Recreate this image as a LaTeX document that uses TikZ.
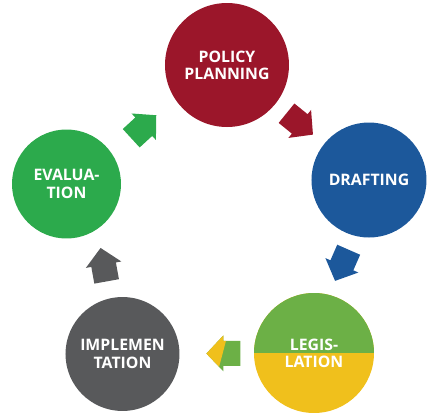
\documentclass[tikz,border=0pt]{standalone}
\usepackage{fontspec}
\setmainfont{Open Sans}
\usepackage{tikz}

\definecolor{ppred}{RGB}{155,22,42}
\definecolor{drblue}{RGB}{28,88,155}
\definecolor{lggreen}{RGB}{108,176,70}
\definecolor{lgyellow}{RGB}{240,192,28}
\definecolor{imgray}{RGB}{88,89,91}
\definecolor{evgreen}{RGB}{44,170,76}

\begin{document}
\begin{tikzpicture}
        \tikzstyle{stage} = [circle, inner sep=0pt, text=white, align=center, font=\fontsize{9}{9.8}\selectfont\bfseries];
        \tikzstyle{flow} = [sloped, allow upside down];
        \tikzset{
            blockarrow/.pic = {
                \fill (-0.34,0.25) -- (0,0.25) -- (0,0.36) -- (0.34,0) -- (0,-0.36) -- (0,-0.25) -- (-0.34,-0.25) -- cycle;
            },
            splitarrow/.pic = {
                \clip (-0.34,0.25) -- (0,0.25) -- (0,0.36) -- (0.34,0) -- (0,-0.36) -- (0,-0.25) -- (-0.34,-0.25) -- cycle;
                \fill [lggreen] (-0.4,-0.4) rectangle (0.4,0.4);
                \fill [lgyellow] (-0.12,-0.5) -- (0.5,-0.5) -- (0.5,0.5) -- (0.15,0.5) -- cycle;
            }
        }

        \useasboundingbox (0,0) rectangle (8.56,-8.28);

        \node [stage, fill=ppred, minimum size=2.48cm] (pp) at (4.54,-1.30) {POLICY\\PLANNING};
        \node [stage, fill=drblue, minimum size=2.3cm] (dr) at (7.38,-3.60) {DRAFTING};
        \node [stage, minimum size=2.4cm, path picture={
            \fill [lgyellow] (path picture bounding box.south west) rectangle (path picture bounding box.north east);
            \fill [lggreen] (path picture bounding box.west) rectangle (path picture bounding box.north east);
        }] (lg) at (6.28,-7.06) {LEGIS-\\LATION};
        \node [stage, fill=imgray, minimum size=2.28cm] (im) at (2.45,-7.08) {IMPLEMEN\\TATION};
        \node [stage, fill=evgreen, minimum size=2.18cm] (ev) at (1.33,-3.68) {EVALUA-\\TION};

        \path (pp) -- pic [flow, fill=ppred] {blockarrow} (dr);
        \path (dr) -- pic [flow, fill=drblue, rotate=-6] {blockarrow} (lg);
        \path (lg) -- pic [flow, pos=0.41] {splitarrow} (im);
        \path (im) -- pic [flow, fill=imgray, yshift=-0.2cm, rotate=-8] {blockarrow} (ev);
        \path (ev) -- pic [flow, fill=evgreen, rotate=6] {blockarrow} (pp);
    \end{tikzpicture}
\end{document}
